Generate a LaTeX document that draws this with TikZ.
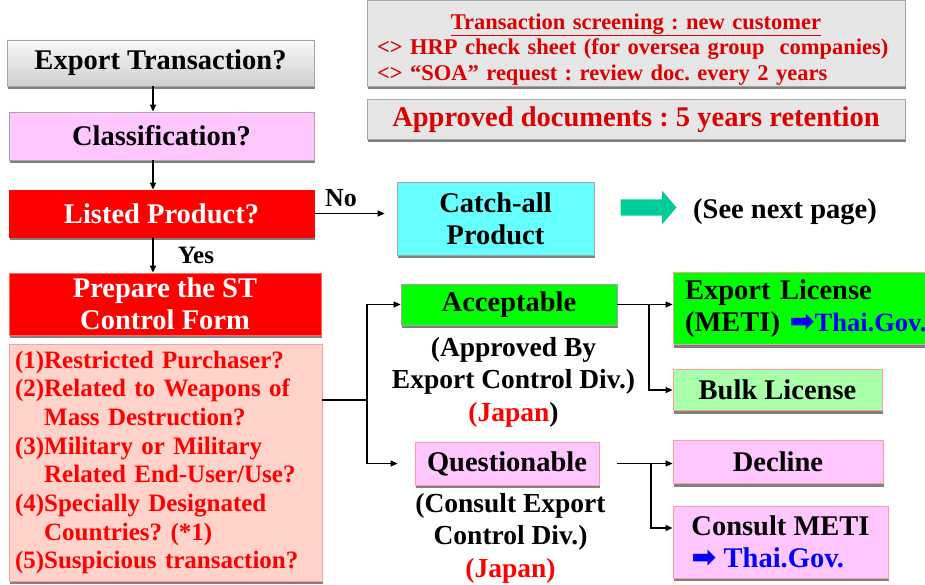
\documentclass[tikz,border=0pt]{standalone}
\usepackage{fontspec}
\setmainfont{Liberation Serif}
\newfontfamily\symfont{DejaVu Sans}
\usetikzlibrary{arrows.meta, positioning, shapes.arrows, shadows, calc}
\definecolor{boxGray}{HTML}{E6E6E6}
\definecolor{edgeGray}{HTML}{A6A6A6}
\definecolor{formRed}{HTML}{FF0000}
\definecolor{noteRed}{HTML}{DD0000}
\definecolor{checkPink}{HTML}{FFD2CA}
\definecolor{checkEdge}{HTML}{FF9C9C}
\definecolor{classPink}{HTML}{FFC6FF}
\definecolor{catchCyan}{HTML}{66FFFF}
\definecolor{okGreen}{HTML}{00FF00}
\definecolor{bulkGreen}{HTML}{AAFFAA}
\definecolor{pageTeal}{HTML}{00CC99}
\definecolor{govBlue}{HTML}{0000FF}
\newcommand{\pxfont}[2]{\fontsize{#1}{#2}\selectfont}
\newcommand{\govarrow}{{\symfont\pxfont{30}{30}\color{govBlue}➡}}
\frenchspacing

\begin{document}
\begin{tikzpicture}[x=1pt, y=-1pt, font=\bfseries,
    >={Triangle[length=7pt,width=6pt]},
    box/.style={draw=edgeGray, line width=0.8pt, inner sep=0pt, align=center,
      drop shadow={shadow xshift=1pt, shadow yshift=-3pt, fill=black!50, opacity=1}},
    flow/.style={line width=1.3pt},
    big/.style={font=\bfseries\pxfont{28.5}{32}},
    note/.style={font=\bfseries\pxfont{27.5}{32.5}, align=center}]
  \useasboundingbox (0,0) rectangle (925,585);

  % screening notes at the top
  \node[box, fill=boxGray, minimum width=538, minimum height=86, text width=518,
    align=left, text=noteRed, font=\bfseries\pxfont{22.5}{25.5}] (screen) at (636,43)
    {\makebox[\linewidth]{\rule{0pt}{28pt}\underline{Transaction screening : new customer}}\\
     \mbox{<> HRP check sheet (for oversea group~ companies)}\\
     \mbox{<> “SOA” request : review doc. every 2 years}};
  \node[box, fill=boxGray, minimum width=538, minimum height=40, text=noteRed,
    font=\bfseries\pxfont{28.5}{32}] (retain) at (636,119.5)
    {Approved documents : 5 years retention};

  % main column
  \coordinate (spine) at (153,0);
  \node[box, big, top color=gray!5, bottom color=gray!38, minimum width=307,
    minimum height=46] (export) at (160.5,63) {Export Transaction?};
  \node[box, big, fill=classPink, minimum width=305, minimum height=48]
    (classif) at (161.5,136) {Classification?};
  \node[box, big, draw=formRed, fill=formRed, text=white, minimum width=305,
    minimum height=47] (listed) at (161.5,213.5) {Listed Product?};
  \node[box, big, draw=formRed!60, fill=formRed, text=white, minimum width=312,
    minimum height=62] (prepare) at (165,304) {Prepare the ST\\Control Form};
  \node[box, draw=checkEdge, fill=checkPink, minimum width=313, minimum height=237,
    text width=301, align=left, text=formRed, font=\bfseries\pxfont{25}{28.7}]
    (checks) at (165.5,462.5)
    {(1)Restricted Purchaser?\\
     (2)Related to Weapons of\\
     \phantom{(2)}Mass Destruction?\\
     (3)Military or Military\\
     \phantom{(3)}Related End-User/Use?\\
     (4)Specially Designated\\
     \phantom{(4)}Countries? (*1)\\
     (5)Suspicious transaction?};

  \draw[flow, ->] (export.south -| spine) -- (classif.north -| spine);
  \draw[flow, ->] (classif.south -| spine) -- (listed.north -| spine);
  \draw[flow, ->] (listed.south -| spine) -- (prepare.north -| spine);
  \node[font=\bfseries\pxfont{25}{28}] (yes) at (196,255) {Yes};

  % catch-all branch
  \node[box, big, fill=catchCyan, minimum width=197, minimum height=73]
    (catchall) at (495.5,218.5) {Catch-all\\Product};
  \draw[flow, ->, shorten >=12pt] (listed.east) -- (listed.east -| catchall.west);
  \node[font=\bfseries\pxfont{26}{28}] (no) at (341,198) {No};
  \node[single arrow, fill=pageTeal, minimum height=56, minimum width=33,
    inner xsep=2pt, inner ysep=8pt, single arrow head extend=8.5pt,
    single arrow tip angle=99] (nextarrow) at (645,207.5) {};
  \node[big] (nextpage) at (785,212) {(See next page)};

  % result of the control form
  \coordinate (fork) at (367,400);
  \node[box, big, fill=okGreen, minimum width=216, minimum height=41]
    (acceptable) at (509,304.5) {Acceptable};
  \node[note] (accnote) at (513.5,382)
    {(Approved By\\Export Control Div.)\\{\color{formRed}(Japan})};
  \node[box, big, fill=classPink, draw=checkEdge, minimum width=184, minimum height=43]
    (questionable) at (507,463.5) {Questionable};
  \node[note] (qnote) at (510.5,538)
    {(Consult Export\\Control Div.)\\{\color{formRed}(Japan)}};

  \draw[flow] (checks.east |- fork) -- (fork);
  \draw[flow, ->] (fork) |- (acceptable.west);
  \draw[flow, ->, shorten >=17pt] (fork) |- (questionable.west);

  % licences and follow-up
  \node[box, big, fill=okGreen, draw=checkEdge, minimum width=290, minimum height=72,
    text width=266, align=left] (license) at (818,308.5)
    {Export License\\(METI) \govarrow{\color{govBlue}\pxfont{26.5}{32}Thai.Gov.}};
  \node[box, big, fill=bulkGreen, draw=checkEdge, minimum width=209, minimum height=41]
    (bulk) at (777.5,390) {Bulk License};
  \node[box, big, fill=classPink, draw=checkEdge, minimum width=210, minimum height=43]
    (decline) at (778,462) {Decline};
  \node[box, big, fill=classPink, draw=checkEdge, minimum width=215, minimum height=72,
    align=left] (consult) at (780.5,542)
    {Consult METI\\\govarrow\ {\color{govBlue}Thai.Gov.}};

  \coordinate (accsplit) at (649,0);
  \coordinate (qsplit) at (651,0);
  \draw[flow, ->] (acceptable.east) -- (acceptable.east -| license.west);
  \draw[flow, ->] (acceptable.east -| accsplit) |- (bulk.west);
  \draw[flow, ->] ([xshift=18pt]questionable.east) -- (questionable.east -| decline.west);
  \draw[flow, ->] (questionable.east -| qsplit) |- ([yshift=14pt]consult.west);
\end{tikzpicture}
\end{document}
